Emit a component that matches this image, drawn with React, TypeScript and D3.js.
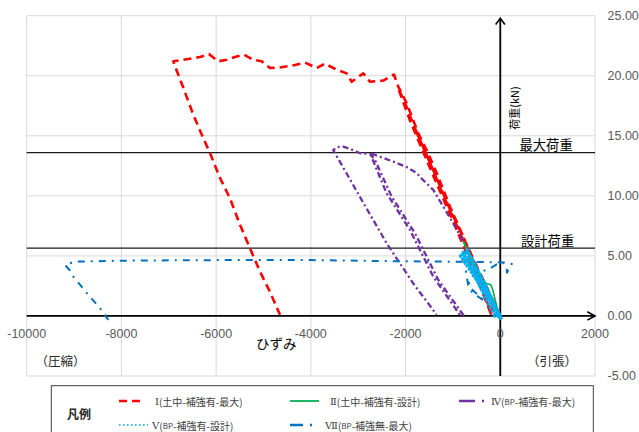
import React from "react";
import * as d3 from "d3";

// ---- data (strain [µ], load [kN]) ----
const xTicks = [-10000, -8000, -6000, -4000, -2000, 0, 2000];
const yTicks = [-5, 0, 5, 10, 15, 20, 25];
const maxLoad = 13.6;
const designLoad = 5.64;

const seriesI: [number, number][] = [
  [0, 0], [-420, 3.5], [-800, 6.7], [-1100, 9.2], [-1400, 12.0], [-1770, 15.3],
  [-1200, 10.0], [-700, 5.6], [-120, 0.1],
  [-520, 3.9], [-860, 6.9], [-1180, 9.8], [-1500, 12.9], [-1800, 15.6], [-2000, 17.6], [-2160, 19.0],
  [-1900, 16.2], [-1450, 12.0], [-1000, 7.9], [-560, 3.8], [-200, 0.2],
  [-500, 3.9], [-781, 6.6], [-1062, 9.1], [-1343, 11.9], [-1554, 13.8], [-1731, 15.2],
  [-1976, 17.7], [-2154, 19.1], [-2245, 20.1], [-2470, 19.6], [-2751, 19.5], [-2893, 20.2],
  [-3138, 19.5], [-3243, 20.2], [-3454, 20.5], [-3701, 21.0], [-3877, 20.64], [-4124, 21.1],
  [-4335, 20.9], [-4652, 20.69], [-4863, 20.64], [-5038, 21.2], [-5215, 21.33], [-5412, 21.75],
  [-5602, 21.56], [-5777, 21.33], [-5954, 21.2], [-6151, 21.8], [-6341, 21.56], [-6693, 21.33],
  [-6904, 21.2], [-6869, 20.8], [-6693, 19.0], [-6482, 16.75], [-6271, 14.8], [-6130, 13.56],
  [-5919, 11.5], [-5708, 9.8], [-5497, 7.6], [-5286, 5.64], [-5074, 3.7], [-4863, 2.0], [-4652, 0.1],
];

const seriesII: [number, number][] = [
  [0, 0], [-300, 2.4], [-600, 4.8], [-781, 6.2], [-650, 4.9], [-400, 3.0], [-290, 2.7],
  [-200, 2.6], [-160, 2.2], [-100, 1.2], [-40, 0.3], [0, 0],
];

const seriesIV: [number, number][] = [
  [0, 0], [-350, 2.8], [-710, 5.77], [-992, 7.7], [-1203, 9.1], [-1415, 10.5], [-1626, 11.3],
  [-1765, 11.9], [-1976, 12.4], [-2259, 12.85], [-2540, 13.26], [-2751, 13.55],
  [-2399, 10.2], [-1907, 7.16], [-1415, 3.27], [-851, 0.08],
  [-781, 0.08], [-1309, 3.0], [-1801, 6.89], [-2293, 9.93], [-2646, 13.0], [-2751, 13.5],
  [-2962, 13.55], [-3103, 13.8], [-3315, 14.1], [-3454, 14.05], [-3526, 13.8],
  [-3250, 11.9], [-2962, 9.9], [-2399, 6.05], [-1837, 2.7], [-1343, 0.1],
];

const seriesV: [number, number][] = [
  [30, -0.3], [-400, 2.6], [-780, 5.2], [-700, 5.5], [-350, 2.9], [-50, 0.3],
  [-120, 0], [-500, 3.0], [-840, 5.0], [-760, 4.9], [-380, 2.3], [0, 0],
  [-300, 2.2], [-720, 5.3], [-820, 5.3], [-420, 2.4], [-60, 0], [20, -0.2],
];

const seriesVII: [number, number][] = [
  [0, 0], [-420, 2.6], [-760, 4.6], [-680, 2.6], [-600, 2.0], [-430, 1.5], [-320, 1.2],
  [-620, 2.3], [-660, 2.8], [-570, 3.4], [-360, 3.75], [-220, 3.95], [-76, 4.3], [60, 4.45],
  [135, 4.1], [140, 3.6], [241, 4.33], [100, 4.45], [-500, 4.5], [-1000, 4.52], [-2000, 4.55],
  [-3000, 4.6], [-4000, 4.65], [-5000, 4.66], [-6000, 4.65], [-7000, 4.63], [-8000, 4.6],
  [-8990, 4.52], [-9190, 4.25], [-9085, 3.77], [-9015, 3.27], [-8910, 2.77], [-8700, 1.75],
  [-8451, 0.64], [-8275, -0.33],
];

const legendRow1 = ["Ⅰ(土中-補強有-最大)", "Ⅱ(土中-補強有-設計)", "Ⅳ(BP-補強有-最大)"];
const legendRow2 = ["Ⅴ(BP-補強有-設計)", "Ⅶ(BP-補強無-最大)"];

const W = 639;
const H = 432;
const JP = "'Noto Sans CJK JP', 'Noto Sans', sans-serif";
const NUM = "'Liberation Sans', Arial, sans-serif";
const ROMAN = "'DejaVu Serif', 'Liberation Serif', serif";

function LegendText({ label, x, y }: { label: string; x: number; y: number }) {
  const numeral = label.slice(0, 1);
  const rest = label.slice(1);
  const idx = rest.indexOf("BP");
  return (
    <text x={x} y={y} fontSize={10} fill="#404040" fontFamily={JP} dominantBaseline="central">
      <tspan fontFamily={ROMAN} fontSize={10}>{numeral}</tspan>
      {idx < 0 ? (
        rest
      ) : (
        <>
          {rest.slice(0, idx)}
          <tspan fontSize={8}>BP</tspan>
          {rest.slice(idx + 2)}
        </>
      )}
    </text>
  );
}

export default function App() {
  const x = d3.scaleLinear().domain([-10000, 2000]).range([26.7, 595]);
  const y = d3.scaleLinear().domain([-5, 25]).range([376, 15.7]);
  const line = d3
    .line<[number, number]>()
    .x((d) => x(d[0]))
    .y((d) => y(d[1]));

  const x0 = x(0);
  const y0 = y(0);

  const series = [
    { data: seriesI, color: "#FF0000", width: 2.6, dash: "8,5" },
    { data: seriesIV, color: "#7030A0", width: 2.3, dash: "6,3,2,3" },
    { data: seriesVII, color: "#0070C0", width: 2, dash: "7,6,2,6" },
    { data: seriesII, color: "#00B050", width: 1.6, dash: "none" },
    { data: seriesV, color: "#00B0F0", width: 3.2, dash: "3,1" },
  ];

  return (
    <svg
      width={W}
      height={H}
      viewBox={`0 0 ${W} ${H}`}
      style={{ position: "absolute", left: 0, top: 0, background: "#fff" }}
    >
      <rect x={0} y={0} width={W} height={H} fill="#fff" />
      {/* grid */}
      {xTicks.map((t) => (
        <line key={"gx" + t} x1={x(t)} x2={x(t)} y1={y(-5)} y2={y(25)} stroke="#d9d9d9" strokeWidth={1} />
      ))}
      {yTicks.map((t) => (
        <line key={"gy" + t} x1={x(-10000)} x2={x(2000)} y1={y(t)} y2={y(t)} stroke="#d9d9d9" strokeWidth={1} />
      ))}

      {/* reference load lines */}
      <line x1={x(-10000)} x2={x(2000)} y1={y(maxLoad)} y2={y(maxLoad)} stroke="#1a1a1a" strokeWidth={1.3} />
      <line x1={x(-10000)} x2={x(2000)} y1={y(designLoad)} y2={y(designLoad)} stroke="#1a1a1a" strokeWidth={1.3} />

      {/* axes */}
      <line x1={x(-10000)} x2={x(2000)} y1={y0} y2={y0} stroke="#000" strokeWidth={1.8} />
      <polyline
        points={`${x(2000) - 7.7},${y0 - 4.2} ${x(2000)},${y0} ${x(2000) - 7.7},${y0 + 4.2}`}
        fill="none"
        stroke="#000"
        strokeWidth={1.6}
      />
      <line x1={x0} x2={x0} y1={y(-5)} y2={18.3} stroke="#000" strokeWidth={1.8} />
      <polyline
        points={`${x0 - 4.6},24.5 ${x0},18.3 ${x0 + 4.6},24.5`}
        fill="none"
        stroke="#000"
        strokeWidth={1.6}
      />

      {/* series */}
      {series.map((s, i) => (
        <path
          key={"s" + i}
          d={line(s.data) || ""}
          fill="none"
          stroke={s.color}
          strokeWidth={s.width}
          strokeDasharray={s.dash}
          strokeLinejoin="round"
        />
      ))}

      {/* tick labels */}
      {xTicks.map((t) => (
        <text key={"tx" + t} x={x(t)} y={338} textAnchor="middle" fontSize={12.5} fill="#595959" fontFamily={NUM}>
          {t}
        </text>
      ))}
      {yTicks.map((t) => (
        <text key={"ty" + t} x={607.5} y={y(t)} fontSize={12.5} fill="#595959" fontFamily={NUM} dominantBaseline="central">
          {t.toFixed(2)}
        </text>
      ))}

      {/* annotations */}
      <text x={519.5} y={150} fontSize={13.3} fill="#000" fontFamily={JP}>最大荷重</text>
      <text x={521} y={246.3} fontSize={13.3} fill="#000" fontFamily={JP}>設計荷重</text>
      <text
        x={0}
        y={0}
        transform={`translate(514,108) rotate(-90)`}
        fontSize={11}
        fill="#000"
        fontFamily={JP}
        textAnchor="middle"
        dominantBaseline="central"
      >
        荷重(kN)
      </text>
      <text x={256} y={349} fontSize={13.5} fill="#000" fontFamily={JP}>ひずみ</text>
      <text x={35.5} y={365.5} fontSize={12.5} fill="#262626" fontFamily={JP}>（圧縮）</text>
      <text x={527} y={365.5} fontSize={12.5} fill="#262626" fontFamily={JP}>（引張）</text>

      {/* legend */}
      <rect x={51.3} y={385.7} width={542} height={60} fill="#fff" stroke="#404040" strokeWidth={1} />
      <text x={67} y={413} fontSize={12} fontWeight="bold" fill="#262626" fontFamily={JP} dominantBaseline="central">
        凡例
      </text>
      <line x1={119} x2={143} y1={401} y2={401} stroke="#FF0000" strokeWidth={2.6} strokeDasharray="8,5" />
      <LegendText label={legendRow1[0]} x={155} y={401} />
      <line x1={290} x2={319} y1={401} y2={401} stroke="#00B050" strokeWidth={1.8} />
      <LegendText label={legendRow1[1]} x={330} y={401} />
      <line x1={459} x2={487} y1={401} y2={401} stroke="#7030A0" strokeWidth={2.4} strokeDasharray="16,7,2,7" />
      <LegendText label={legendRow1[2]} x={491} y={401} />
      <line x1={119} x2={148} y1={425} y2={425} stroke="#00B0F0" strokeWidth={1.6} strokeDasharray="1.6,2.4" />
      <LegendText label={legendRow2[0]} x={152} y={425} />
      <line x1={290} x2={314} y1={425} y2={425} stroke="#0070C0" strokeWidth={2.4} strokeDasharray="13,7,2,7" />
      <LegendText label={legendRow2[1]} x={325} y={425} />
    </svg>
  );
}
